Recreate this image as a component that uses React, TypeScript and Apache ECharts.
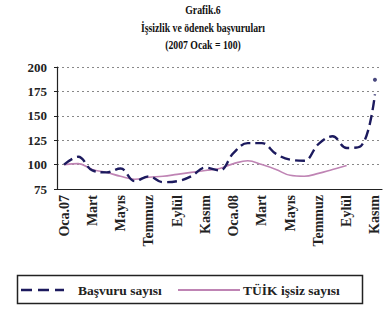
import React, { useEffect, useRef } from "react";
import * as echarts from "echarts";

const months = [
  "Oca.07", "Şubat", "Mart", "Nisan", "Mayıs", "Haziran", "Temmuz", "Ağustos", "Eylül", "Ekim", "Kasım", "Aralık",
  "Oca.08", "Şubat", "Mart", "Nisan", "Mayıs", "Haziran", "Temmuz", "Ağustos", "Eylül", "Ekim", "Kasım",
];

const basvuru = [100, 108, 94, 92, 96, 83, 88, 82, 83, 88, 97, 94, 112, 122, 122, 111, 105, 104, 121, 129, 117, 119, 172];

const tuik = [100, 101, 95, 92, 88, 85, 87, 88, 90, 92, 94, 96, 101, 104, 100, 95, 89, 88, 91, 95, 99, null, null];

const latest = [null, null, null, null, null, null, null, null, null, null, null, null, null, null, null, null, null, null, null, null, null, null, 187];

const yTicks = { min: 75, max: 200, interval: 25 };

const titleLines = ["Grafik.6", "İşsizlik ve ödenek başvuruları", "(2007 Ocak = 100)"];
const seriesNames = ["Başvuru sayısı", "TÜİK işsiz sayısı"];

const FONT = "'Liberation Serif', 'Times New Roman', serif";
const NAVY = "#1c1a5e";
const PINK = "#bf84b4";

export default function App() {
  const ref = useRef<HTMLDivElement>(null);
  useEffect(() => {
    if (!ref.current) return;
    const chart = echarts.init(ref.current, null, { renderer: "svg" });
    const titleEls = titleLines.map((t, i) => ({
      type: "text",
      x: 203,
      y: 10 + i * 17.5,
      scaleX: 0.78,
      style: {
        text: t,
        fontFamily: FONT,
        fontWeight: "bold",
        fontSize: 12.5,
        fill: "#111",
        align: "center",
        verticalAlign: "middle",
      },
    }));
    const legendEls = [
      {
        type: "rect",
        shape: { x: 17.5, y: 275.5, width: 345, height: 28 },
        style: { fill: "none", stroke: "#222", lineWidth: 1.5 },
      },
      {
        type: "line",
        shape: { x1: 21, y1: 290, x2: 64, y2: 290 },
        style: { stroke: NAVY, lineWidth: 2.5, lineDash: [11, 6] },
      },
      {
        type: "text",
        x: 78,
        y: 290,
        style: {
          text: seriesNames[0],
          fontFamily: FONT,
          fontWeight: "bold",
          fontSize: 13.5,
          fill: "#222",
          align: "left",
          verticalAlign: "middle",
        },
      },
      {
        type: "line",
        shape: { x1: 178, y1: 290, x2: 240, y2: 290 },
        style: { stroke: PINK, lineWidth: 1.8 },
      },
      {
        type: "text",
        x: 243,
        y: 290,
        style: {
          text: seriesNames[1],
          fontFamily: FONT,
          fontWeight: "bold",
          fontSize: 13.5,
          fill: "#222",
          align: "left",
          verticalAlign: "middle",
        },
      },
    ];
    chart.setOption({
      animation: false,
      backgroundColor: "#ffffff",
      graphic: [...titleEls, ...legendEls],
      grid: { left: 57, right: 2, top: 67, bottom: 120, containLabel: false },
      xAxis: {
        type: "category",
        data: months,
        boundaryGap: true,
        axisLine: { lineStyle: { color: "#222", width: 1.2 } },
        axisTick: { interval: 0, length: 3, lineStyle: { color: "#222" } },
        axisLabel: {
          interval: 1,
          rotate: 90,
          fontFamily: FONT,
          fontWeight: "bold",
          fontSize: 14,
          color: "#222",
          margin: 6,
        },
        splitLine: { show: false },
      },
      yAxis: {
        type: "value",
        min: yTicks.min,
        max: yTicks.max,
        interval: yTicks.interval,
        axisLine: { show: true, lineStyle: { color: "#222", width: 1.2 } },
        axisTick: { show: true, length: 3, lineStyle: { color: "#222" } },
        axisLabel: { fontFamily: FONT, fontWeight: "bold", fontSize: 13, color: "#222", margin: 10 },
        splitLine: { show: true, lineStyle: { color: "#888", type: [2, 3], width: 1 } },
      },
      series: [
        {
          name: seriesNames[0],
          type: "line",
          data: basvuru,
          smooth: 0.4,
          symbol: "none",
          lineStyle: { color: NAVY, width: 2.4, type: [10, 5] },
          itemStyle: { color: NAVY },
          z: 3,
        },
        {
          name: seriesNames[1],
          type: "line",
          data: tuik,
          smooth: 0.4,
          symbol: "none",
          connectNulls: false,
          lineStyle: { color: PINK, width: 1.6 },
          itemStyle: { color: PINK },
          z: 2,
        },
        {
          name: "latest",
          type: "scatter",
          data: latest,
          symbol: "circle",
          symbolSize: 4,
          itemStyle: { color: NAVY },
          z: 4,
        },
      ],
    });
    return () => chart.dispose();
  }, []);
  return (
    <div
      ref={ref}
      style={{ position: "absolute", left: 0, top: 0, width: 384, height: 309 }}
    />
  );
}
